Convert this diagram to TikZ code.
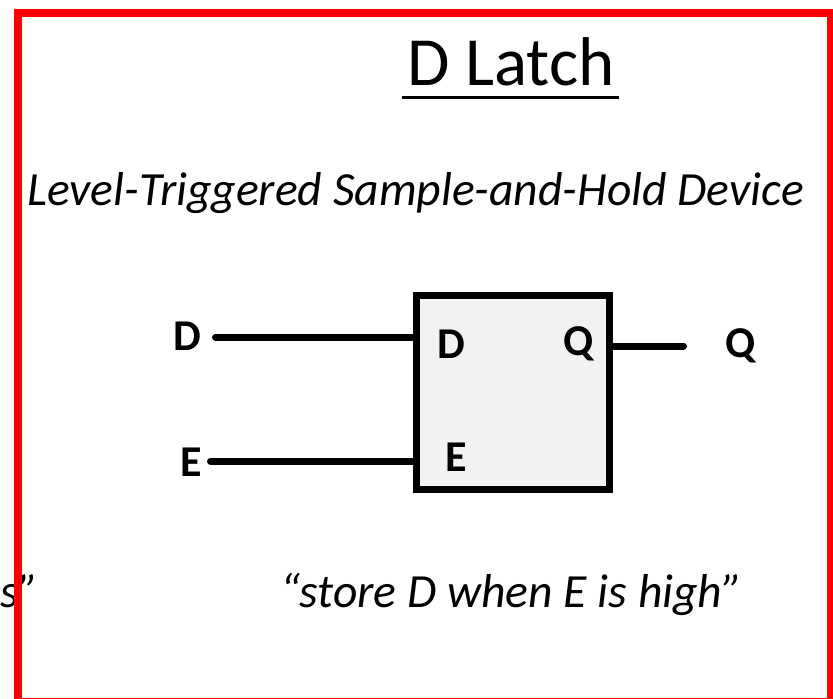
\documentclass[tikz,border=0pt]{standalone}
\usepackage{fontspec}
\setmainfont{Carlito}
\usepackage{xcolor}
\usetikzlibrary{positioning}
\definecolor{latchgray}{HTML}{F2F2F2}

\begin{document}
\begin{tikzpicture}[
  x=1pt, y=-1pt,
  latchbox/.style = {draw, line width=7pt, fill=latchgray, inner sep=0pt,
                     minimum width=193pt, minimum height=194pt},
  pinlab/.style   = {inner sep=0pt, anchor=base,
                     font=\fontsize{44}{44}\selectfont\bfseries},
  note/.style     = {inner sep=0pt, anchor=base,
                     font=\fontsize{47.6}{47.6}\selectfont\itshape},
  wire/.style     = {line width=7pt, line cap=round},
]
  \useasboundingbox (0,0) rectangle (833,699);
  \clip (0,0) rectangle (833,699);
  % heading
  \node[inner sep=0pt, anchor=base, font=\fontsize{69}{69}\selectfont] (title) at (511,85) {D Latch};
  \draw[line width=3pt] ([xshift=-5pt, yshift=-12pt]title.base west) -- ([xshift=4pt, yshift=-12pt]title.base east);
  \node[note, anchor=base west] (subtitle) at (27,205) {Level-Triggered Sample-and-Hold Device};
  % the latch
  \node[latchbox] (latch) at (513,392.5) {};
  \node[pinlab] (dPin) at (451.5,358) {D};
  \node[pinlab] (ePin) at (456.5,471) {E};
  \node[pinlab] (qPin) at (579,355) {Q};
  \coordinate (dIn)  at (215.5,337);
  \coordinate (eIn)  at (210.5,461);
  \coordinate (qOut) at (683.5,346);
  \draw[wire] (dIn) -- (dIn -| latch.west);
  \draw[wire] (eIn) -- (eIn -| latch.west);
  \draw[wire] (qOut -| latch.east) -- (qOut);
  \node[pinlab] (dLab) at (187.5,350.5) {D};
  \node[pinlab] (eLab) at (191,476.5) {E};
  \node[pinlab] (qLab) at (741,357) {Q};
  % captions
  \node[note] (rule) at (511.5,607) {“store D when E is high”};
  \node[note, anchor=base west] (cut) at (0,607) {s”};
  % frame
  \draw[red, line width=8pt] (18,12.5) rectangle (831,702);
\end{tikzpicture}
\end{document}
